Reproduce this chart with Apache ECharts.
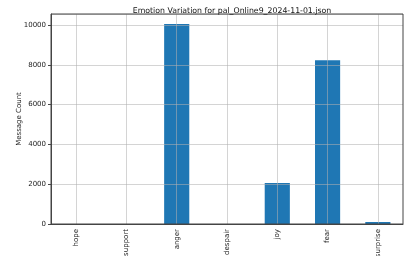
<!DOCTYPE html>
<html><head><meta charset="utf-8">
<script src="https://cdn.jsdelivr.net/npm/echarts@6/dist/echarts.min.js"></script>
<style>html,body{margin:0;padding:0;background:#fff}#c{width:409px;height:256px}</style>
</head><body><div id="c"></div>
<script>
const categories = ["hope","support","anger","despair","joy","fear","surprise"];
const counts = [0, 0, 10050, 0, 2055, 8230, 100];
const yTicks = [0, 2000, 4000, 6000, 8000, 10000];
const titleText = "Emotion Variation for pal_Online9_2024-11-01.json";
const yTitle = "Message Count";

const yMax = Math.max(...counts) * 1.05;
const chart = echarts.init(document.getElementById('c'));
chart.setOption({
  animation: false,
  title: {text: titleText, left: 227, textAlign: 'center', top: 2,
    textStyle: {fontFamily: 'DejaVu Sans', fontSize: 7.8, fontWeight: 'normal', color: '#111'}},
  grid: {left: 51, right: 6, top: 14, bottom: 32, show: true, borderColor: '#444', borderWidth: 1, z: 6,
    containLabel: false, outerBoundsMode: 'none'},
  xAxis: {type: 'category', data: categories, z: 5,
    axisLine: {lineStyle: {color: '#444'}},
    axisTick: {alignWithLabel: true, length: 3, lineStyle: {color: '#444'}},
    splitLine: {show: true, alignWithLabel: true, lineStyle: {color: 'rgba(176,176,176,0.55)', width: 1}},
    axisLabel: {rotate: 90, fontFamily: 'DejaVu Sans', fontSize: 7, color: '#222', margin: 5, interval: 0}},
  yAxis: {type: 'value', min: 0, max: yMax, interval: 2000, z: 5,
    name: yTitle, nameLocation: 'middle', nameGap: 28, nameMoveOverlap: false,
    nameTextStyle: {fontFamily: 'DejaVu Sans', fontSize: 7, color: '#222'},
    axisLine: {show: true, lineStyle: {color: '#444'}},
    axisTick: {show: true, length: 3, lineStyle: {color: '#444'}},
    splitLine: {show: true, lineStyle: {color: 'rgba(176,176,176,0.55)', width: 1}},
    axisLabel: {fontFamily: 'DejaVu Sans', fontSize: 7, color: '#222', margin: 5, showMaxLabel: false,
      formatter: v => yTicks.includes(v) ? String(v) : ''}},
  series: [{type: 'bar', data: counts, barWidth: '50%', itemStyle: {color: '#1f77b4'}, z: 2}]
});
</script></body></html>
